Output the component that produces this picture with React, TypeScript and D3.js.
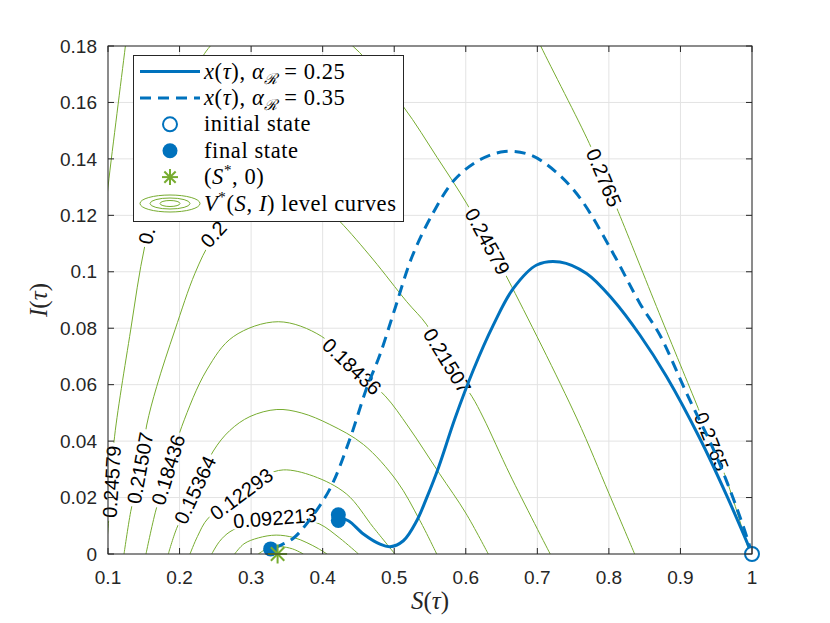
import { useRef, useEffect } from "react";
import * as d3 from "d3";

const width = 830;
const height = 623;
const plot = { left: 108, right: 752, top: 46, bottom: 554 };
const legendBox = { x: 133.5, y: 55.5, w: 270, h: 166 };

const blue = "#0072BD";
const green = "#77AC30";
const axisColor = "#262626";

const xTicks = [0.1, 0.2, 0.3, 0.4, 0.5, 0.6, 0.7, 0.8, 0.9, 1];
const yTicks = [0, 0.02, 0.04, 0.06, 0.08, 0.1, 0.12, 0.14, 0.16, 0.18];

// V*(S,I) level curves as (S, I) points
const level1 = [[0.31, 0], [0.322, 0.0018], [0.34, 0.0026], [0.358, 0.0018], [0.373, 0]];
const level2 = [[0.277, 0], [0.29, 0.0036], [0.31, 0.0057], [0.335, 0.0067], [0.36, 0.0058], [0.378, 0.004], [0.394, 0.0019], [0.406, 0]];
const level3 = [[0.245, 0], [0.256, 0.0045], [0.2705, 0.0079], [0.3, 0.0112], [0.335, 0.0128], [0.37, 0.0124], [0.396, 0.0106], [0.424, 0.0056], [0.45, 0]];
const level4 = [[0.2146, 0], [0.225, 0.0062], [0.24, 0.0127], [0.2866, 0.0213], [0.32, 0.0278], [0.345, 0.0298], [0.387, 0.0276], [0.4336, 0.0212], [0.4709, 0.0094], [0.501, 0]];
const level5 = [[0.1843, 0], [0.196, 0.0091], [0.2216, 0.0227], [0.2472, 0.0365], [0.27, 0.0437], [0.2984, 0.0487], [0.336, 0.0512], [0.37, 0.05], [0.41, 0.0459], [0.457, 0.0388], [0.5035, 0.0259], [0.536, 0.0118], [0.5594, 0]];
const level6 = [[0.1531, 0], [0.167, 0.0156], [0.1843, 0.0298], [0.203, 0.0451], [0.238, 0.0652], [0.2751, 0.077], [0.338, 0.0823], [0.3986, 0.0771], [0.4406, 0.0665], [0.487, 0.0561], [0.52, 0.045], [0.5632, 0.0285], [0.6, 0.0145], [0.6314, 0]];
const level7 = [[0.1224, 0], [0.1317, 0.015], [0.1447, 0.0304], [0.1541, 0.0457], [0.168, 0.0593], [0.1936, 0.0794], [0.2216, 0.0995], [0.2449, 0.1113], [0.28, 0.122], [0.32, 0.128], [0.36, 0.1288], [0.395, 0.1248], [0.4242, 0.1178], [0.47, 0.1045], [0.5175, 0.0894], [0.5455, 0.0812], [0.575, 0.068], [0.6084, 0.0559], [0.6247, 0.0482], [0.662, 0.028], [0.718, 0]];
const level8 = [[0.097, 0.0], [0.1, 0.009], [0.1052, 0.0256], [0.1084, 0.0398], [0.1317, 0.0794], [0.1517, 0.1095], [0.19, 0.147], [0.225, 0.1725], [0.243, 0.18], [0.3, 0.192], [0.37, 0.192], [0.442, 0.18], [0.5128, 0.1585], [0.56, 0.1405], [0.601, 0.1243], [0.6304, 0.1107], [0.6594, 0.0971], [0.7549, 0.0482], [0.8, 0.0215], [0.836, 0]];
const level9Left = [[0.094, 0.115], [0.1, 0.13], [0.1125, 0.156], [0.1243, 0.18], [0.128, 0.188]];
const level9Right = [[0.69, 0.188], [0.7047, 0.18], [0.7726, 0.1455], [0.7928, 0.1334], [0.8131, 0.1213], [0.87, 0.0855], [0.925, 0.0515], [0.943, 0.04], [0.9646, 0.0262], [0.997, 0]];

const levelCurves = [
  { value: 0.030716, parts: [level1] },
  { value: 0.061432, parts: [level2] },
  { value: 0.092213, parts: [level3] },
  { value: 0.12293, parts: [level4] },
  { value: 0.15364, parts: [level5] },
  { value: 0.18436, parts: [level6] },
  { value: 0.21507, parts: [level7] },
  { value: 0.24579, parts: [level8] },
  { value: 0.2765, parts: [level9Left, level9Right] },
];

// where the inline labels sit (snapped onto their curve)
const contourLabels = [
  { value: 0.24579, near: [0.1052, 0.0256] },
  { value: 0.21507, near: [0.1447, 0.0304] },
  { value: 0.18436, near: [0.1843, 0.0298] },
  { value: 0.15364, near: [0.2216, 0.0227] },
  { value: 0.12293, near: [0.2866, 0.0213] },
  { value: 0.092213, near: [0.333, 0.0125] },
  { value: 0.24579, near: [0.161, 0.1225] },
  { value: 0.21507, near: [0.265, 0.1198] },
  { value: 0.18436, near: [0.4406, 0.0665] },
  { value: 0.21507, near: [0.5744, 0.0685] },
  { value: 0.24579, near: [0.6304, 0.1107] },
  { value: 0.2765, near: [0.7928, 0.1334] },
  { value: 0.2765, near: [0.9436, 0.0398] },
];

// trajectories x(tau) = (S, I)
const trajectoryLow = [[1, 0], [0.965, 0.0205], [0.927, 0.041], [0.8805, 0.0629], [0.8433, 0.0776], [0.806, 0.09], [0.7688, 0.0994], [0.7316, 0.1035], [0.6991, 0.1024], [0.6665, 0.0941], [0.6386, 0.0812], [0.6107, 0.0653], [0.5851, 0.0482], [0.5618, 0.0306], [0.5455, 0.02], [0.5315, 0.0118], [0.5128, 0.0047], [0.4942, 0.0026], [0.4802, 0.0035], [0.4569, 0.0071], [0.4359, 0.0118], [0.4219, 0.0129]];
const trajectoryHigh = [[1, 0], [0.988, 0.0097], [0.9506, 0.0345], [0.9087, 0.0569], [0.8714, 0.0775], [0.8433, 0.0888], [0.806, 0.1065], [0.76, 0.126], [0.7254, 0.1355], [0.69, 0.1414], [0.6545, 0.1426], [0.619, 0.1396], [0.584, 0.1325], [0.554, 0.1207], [0.525, 0.1054], [0.5012, 0.0871], [0.48, 0.0706], [0.4615, 0.0588], [0.437, 0.04], [0.41, 0.023], [0.38, 0.0115], [0.359, 0.0056], [0.34, 0.003], [0.3273, 0.0018]];

const initialStates = [[1, 0]];
const finalStates = [[0.4219, 0.0139], [0.4219, 0.0119], [0.3273, 0.0018]];
const equilibrium = [[0.337, 0]];

const sansFont = "'Liberation Sans', Arial, Helvetica, sans-serif";
const serifFont = "'Liberation Serif', 'DejaVu Serif', serif";

function asterisk(g: any, cx: number, cy: number, r: number) {
  const d = r * Math.SQRT1_2;
  const segs = [
    [cx - r, cy, cx + r, cy],
    [cx, cy - r, cx, cy + r],
    [cx - d, cy - d, cx + d, cy + d],
    [cx - d, cy + d, cx + d, cy - d],
  ];
  segs.forEach(([x1, y1, x2, y2]) =>
    g.append("line").attr("x1", x1).attr("y1", y1).attr("x2", x2).attr("y2", y2)
      .attr("stroke", green).attr("stroke-width", 2)
  );
}

export default function App() {
  const ref = useRef<SVGSVGElement | null>(null);

  useEffect(() => {
    const svg = d3.select(ref.current);
    svg.selectAll("*").remove();

    const x = d3.scaleLinear().domain([0.1, 1]).range([plot.left, plot.right]);
    const y = d3.scaleLinear().domain([0, 0.18]).range([plot.bottom, plot.top]);
    const pw = plot.right - plot.left;
    const ph = plot.bottom - plot.top;

    const defs = svg.append("defs");
    defs.append("clipPath").attr("id", "plotArea").append("rect")
      .attr("x", plot.left).attr("y", plot.top).attr("width", pw).attr("height", ph);
    const mask = defs.append("mask").attr("id", "labelGaps")
      .attr("maskUnits", "userSpaceOnUse")
      .attr("x", 0).attr("y", 0).attr("width", width).attr("height", height);
    mask.append("rect").attr("width", width).attr("height", height).attr("fill", "white");

    svg.append("rect").attr("width", width).attr("height", height).attr("fill", "white");

    // grid
    const grid = svg.append("g").attr("stroke", "#e3e3e3").attr("stroke-width", 1);
    grid.selectAll("line.gx").data(xTicks).join("line")
      .attr("x1", (d) => x(d)).attr("x2", (d) => x(d))
      .attr("y1", plot.top).attr("y2", plot.bottom);
    grid.selectAll("line.gy").data(yTicks).join("line")
      .attr("y1", (d) => y(d)).attr("y2", (d) => y(d))
      .attr("x1", plot.left).attr("x2", plot.right);

    // level curves
    const line = d3.line<number[]>()
      .x((d) => x(d[0]))
      .y((d) => y(d[1]))
      .curve(d3.curveCatmullRom.alpha(0.5));

    const contourG = svg.append("g").attr("clip-path", "url(#plotArea)")
      .append("g").attr("mask", "url(#labelGaps)");
    const nodes = new Map<number, SVGPathElement[]>();
    levelCurves.forEach((c) => {
      c.parts.forEach((part) => {
        const p = contourG.append("path")
          .attr("d", line(part))
          .attr("fill", "none")
          .attr("stroke", green)
          .attr("stroke-width", 1);
        const list = nodes.get(c.value) || [];
        list.push(p.node() as SVGPathElement);
        nodes.set(c.value, list);
      });
    });

    const inLegend = (gx: number, gy: number) =>
      gx > legendBox.x && gx < legendBox.x + legendBox.w && gy > legendBox.y && gy < legendBox.y + legendBox.h;

    const fmt = d3.format(".5~g");
    const labelG = svg.append("g");
    contourLabels.forEach((lb) => {
      const tx = x(lb.near[0]);
      const ty = y(lb.near[1]);
      let best: { d: number; node: SVGPathElement | null; t: number } = { d: Infinity, node: null, t: 0 };
      (nodes.get(lb.value) || []).forEach((node) => {
        const L = node.getTotalLength();
        for (let t = 0; t <= L; t += 0.5) {
          const p = node.getPointAtLength(t);
          const d = (p.x - tx) ** 2 + (p.y - ty) ** 2;
          if (d < best.d) best = { d, node, t };
        }
      });
      const node = best.node!;
      const L = node.getTotalLength();
      const c = node.getPointAtLength(best.t);
      const p0 = node.getPointAtLength(Math.max(0, best.t - 6));
      const p1 = node.getPointAtLength(Math.min(L, best.t + 6));
      let ang = (Math.atan2(p1.y - p0.y, p1.x - p0.x) * 180) / Math.PI;
      if (ang > 90) ang -= 180;
      if (ang < -90) ang += 180;
      const tf = `translate(${c.x},${c.y}) rotate(${ang})`;
      const full = fmt(lb.value);
      const text = labelG.append("text")
        .attr("transform", tf)
        .attr("text-anchor", "middle")
        .attr("dy", "0.35em")
        .attr("font-family", sansFont)
        .attr("font-size", 20)
        .attr("fill", "#000")
        .text(full);
      const tnode = text.node() as SVGTextElement;
      const len = tnode.getComputedTextLength();
      mask.append("rect")
        .attr("transform", tf)
        .attr("x", -len / 2 - 3).attr("y", -8)
        .attr("width", len + 6).attr("height", 16)
        .attr("fill", "black");
      // the legend sits over part of some labels: keep only the characters left in view
      text.attr("text-anchor", "start").attr("x", -len / 2);
      const rad = (ang * Math.PI) / 180;
      let keep = full.length;
      for (let i = 0; i < full.length; i++) {
        const e = tnode.getEndPositionOfChar(i);
        const gx = c.x + e.x * Math.cos(rad) - (e.y - 7) * Math.sin(rad);
        const gy = c.y + e.x * Math.sin(rad) + (e.y - 7) * Math.cos(rad);
        if (inLegend(gx, gy)) {
          keep = i;
          break;
        }
      }
      if (keep < full.length) text.text(full.slice(0, keep));
    });

    // trajectories
    const trajLine = d3.line<number[]>()
      .x((d) => x(d[0]))
      .y((d) => y(d[1]))
      .curve(d3.curveCatmullRom.alpha(0.5));
    svg.append("path").attr("d", trajLine(trajectoryHigh))
      .attr("fill", "none").attr("stroke", blue).attr("stroke-width", 3)
      .attr("stroke-dasharray", "11,7");
    svg.append("path").attr("d", trajLine(trajectoryLow))
      .attr("fill", "none").attr("stroke", blue).attr("stroke-width", 3);

    // markers
    svg.selectAll("circle.init").data(initialStates).join("circle")
      .attr("cx", (d) => x(d[0])).attr("cy", (d) => y(d[1])).attr("r", 7)
      .attr("fill", "white").attr("stroke", blue).attr("stroke-width", 2);
    svg.selectAll("circle.fin").data(finalStates).join("circle")
      .attr("cx", (d) => x(d[0])).attr("cy", (d) => y(d[1])).attr("r", 7.5)
      .attr("fill", blue);
    const starG = svg.append("g");
    equilibrium.forEach((d) => asterisk(starG, x(d[0]), y(d[1]), 9.5));

    // axes box and ticks
    const ax = svg.append("g").attr("stroke", axisColor).attr("stroke-width", 1);
    ax.append("rect").attr("x", plot.left).attr("y", plot.top)
      .attr("width", pw).attr("height", ph).attr("fill", "none");
    const tl = 6;
    xTicks.forEach((t) => {
      ax.append("line").attr("x1", x(t)).attr("x2", x(t)).attr("y1", plot.bottom).attr("y2", plot.bottom - tl);
      ax.append("line").attr("x1", x(t)).attr("x2", x(t)).attr("y1", plot.top).attr("y2", plot.top + tl);
    });
    yTicks.forEach((t) => {
      ax.append("line").attr("y1", y(t)).attr("y2", y(t)).attr("x1", plot.left).attr("x2", plot.left + tl);
      ax.append("line").attr("y1", y(t)).attr("y2", y(t)).attr("x1", plot.right).attr("x2", plot.right - tl);
    });

    const tickFmt = (v: number) => String(+v.toFixed(2));
    svg.append("g").selectAll("text").data(xTicks).join("text")
      .attr("x", (d) => x(d)).attr("y", plot.bottom + 30)
      .attr("text-anchor", "middle")
      .attr("font-family", sansFont).attr("font-size", 19).attr("fill", axisColor)
      .text(tickFmt);
    svg.append("g").selectAll("text").data(yTicks).join("text")
      .attr("x", plot.left - 11).attr("y", (d) => y(d)).attr("dy", "0.35em")
      .attr("text-anchor", "end")
      .attr("font-family", sansFont).attr("font-size", 19).attr("fill", axisColor)
      .text(tickFmt);

    // axis titles
    const xt = svg.append("text").attr("x", (plot.left + plot.right) / 2).attr("y", 609)
      .attr("text-anchor", "middle").attr("font-family", serifFont).attr("font-size", 25).attr("fill", axisColor);
    xt.append("tspan").attr("font-style", "italic").text("S");
    xt.append("tspan").text("(");
    xt.append("tspan").attr("font-style", "italic").text("τ");
    xt.append("tspan").text(")");
    const yt = svg.append("text").attr("transform", `translate(47,${(plot.top + plot.bottom) / 2}) rotate(-90)`)
      .attr("text-anchor", "middle").attr("font-family", serifFont).attr("font-size", 25).attr("fill", axisColor);
    yt.append("tspan").attr("font-style", "italic").text("I");
    yt.append("tspan").text("(");
    yt.append("tspan").attr("font-style", "italic").text("τ");
    yt.append("tspan").text(")");

    // legend
    const lg = svg.append("g");
    lg.append("rect").attr("x", legendBox.x).attr("y", legendBox.y)
      .attr("width", legendBox.w).attr("height", legendBox.h)
      .attr("fill", "white").attr("stroke", axisColor).attr("stroke-width", 1);
    const rowY = (i: number) => 71.5 + i * 26.4;
    const textX = 204;
    const fs = 22.5;
    const sub = 15;
    const legendText = (i: number) =>
      lg.append("text").attr("x", textX).attr("y", rowY(i) + 7)
        .attr("font-family", serifFont).attr("font-size", fs)
        .attr("letter-spacing", 0.6).attr("fill", "#000");
    const mathText = (i: number, alpha: string) => {
      const t = legendText(i);
      t.append("tspan").attr("font-style", "italic").text("x");
      t.append("tspan").text("(");
      t.append("tspan").attr("font-style", "italic").text("τ");
      t.append("tspan").text("), ");
      t.append("tspan").attr("font-style", "italic").text("α");
      t.append("tspan").attr("font-size", sub).attr("dy", 5).attr("font-style", "italic").text("ℛ");
      t.append("tspan").attr("dy", -5).text(` = ${alpha}`);
    };
    lg.append("line").attr("x1", 140).attr("x2", 200).attr("y1", rowY(0)).attr("y2", rowY(0))
      .attr("stroke", blue).attr("stroke-width", 3);
    mathText(0, "0.25");
    lg.append("line").attr("x1", 140).attr("x2", 200).attr("y1", rowY(1)).attr("y2", rowY(1))
      .attr("stroke", blue).attr("stroke-width", 3).attr("stroke-dasharray", "11,7");
    mathText(1, "0.35");
    lg.append("circle").attr("cx", 170).attr("cy", rowY(2)).attr("r", 7)
      .attr("fill", "white").attr("stroke", blue).attr("stroke-width", 2);
    legendText(2).text("initial state");
    lg.append("circle").attr("cx", 170).attr("cy", rowY(3)).attr("r", 7.5).attr("fill", blue);
    legendText(3).text("final state");
    asterisk(lg, 170, rowY(4), 8);
    const st = legendText(4);
    st.append("tspan").text("(");
    st.append("tspan").attr("font-style", "italic").text("S");
    st.append("tspan").attr("font-size", sub).attr("dy", -9).text("*");
    st.append("tspan").attr("dy", 9).text(", 0)");
    [[30, 8.5], [20, 5.5], [10, 3]].forEach(([rx, ry]) =>
      lg.append("ellipse").attr("cx", 170).attr("cy", rowY(5)).attr("rx", rx).attr("ry", ry)
        .attr("fill", "none").attr("stroke", green).attr("stroke-width", 1)
    );
    const vt = legendText(5);
    vt.append("tspan").attr("font-style", "italic").text("V");
    vt.append("tspan").attr("font-size", sub).attr("dy", -9).text("*");
    vt.append("tspan").attr("dy", 9).text("(");
    vt.append("tspan").attr("font-style", "italic").text("S");
    vt.append("tspan").text(", ");
    vt.append("tspan").attr("font-style", "italic").text("I");
    vt.append("tspan").text(") level curves");
  }, []);

  return (
    <svg
      ref={ref}
      width={width}
      height={height}
      style={{ position: "absolute", left: 0, top: 0, display: "block" }}
    />
  );
}
